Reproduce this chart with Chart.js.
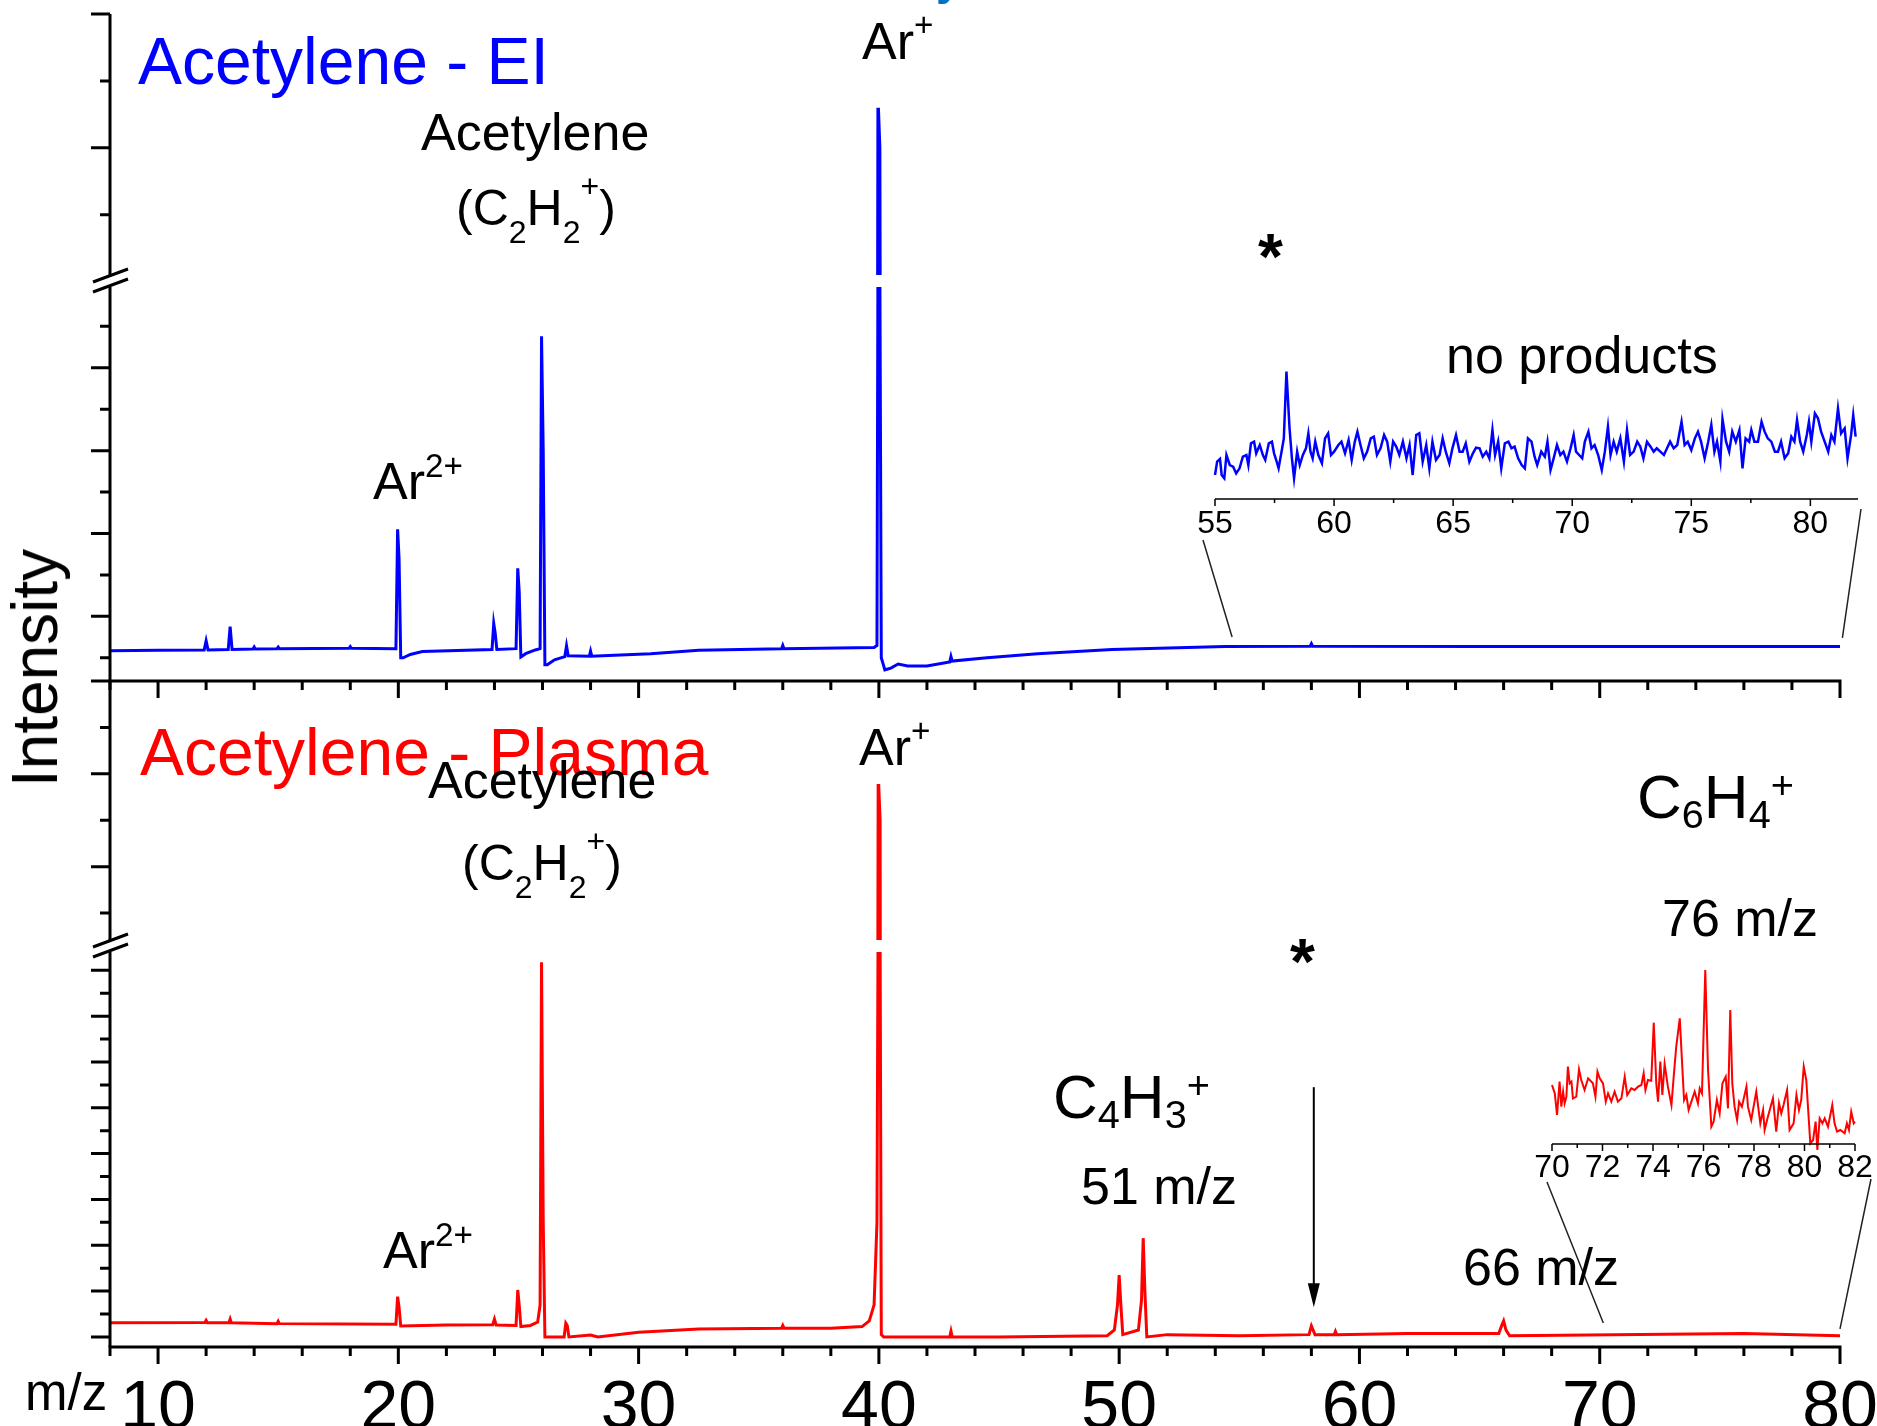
<!DOCTYPE html>
<html>
<head>
<meta charset="utf-8">
<script src="https://cdn.jsdelivr.net/npm/chart.js@4.4.1/dist/chart.umd.min.js"></script>
<style>
  html, body { margin: 0; padding: 0; background: #fff; overflow: hidden; }
  #fig { position: relative; width: 1877px; height: 1426px; overflow: hidden; font-family: "Liberation Sans", Arial, sans-serif; }
  #fig canvas { position: absolute; left: 0; top: 0; }
  .lbl { position: absolute; white-space: nowrap; line-height: 1; }
  .lbl sub, .lbl sup { font-size: 0.64em; vertical-align: baseline; position: relative; line-height: 0; }
  .lbl sub { top: 0.3em; }
  .lbl sup { top: -0.7em; }
</style>
</head>
<body>
<div id="fig">
  <canvas id="cTopHi" width="1877" height="1426"></canvas>
  <canvas id="cTopLo" width="1877" height="1426"></canvas>
  <canvas id="cBotHi" width="1877" height="1426"></canvas>
  <canvas id="cBotLo" width="1877" height="1426"></canvas>
  <canvas id="cEiZoom" width="1877" height="1426"></canvas>
  <canvas id="cPlZoom" width="1877" height="1426"></canvas>
</div>
<script>
const W = 1877, H = 1426;
const FONT = '"Liberation Sans", Arial, sans-serif';

// ---- data (intensity in arbitrary units of the split axes) ----
const mzTicks = [10, 20, 30, 40, 50, 60, 70, 80];

// Acetylene - EI
const eiMz = [8.0, 10.0, 11.92, 12.0, 12.08, 12.92, 13.0, 13.08, 13.95, 14.0, 14.05, 14.95, 15.0, 15.05,
  17.95, 18.0, 18.05, 19.9, 19.97, 20.03, 20.1, 20.2, 20.5, 21.0, 23.9, 23.97, 24.03, 24.1, 24.9, 24.97,
  25.03, 25.1, 25.3, 25.7, 25.9, 25.96, 26.03, 26.1, 26.2, 26.5, 26.93, 27.0, 27.07, 27.95, 28.0, 28.05,
  29.0, 30.5, 32.5, 35.95, 36.0, 36.05, 39.8, 39.92, 39.97, 40.03, 40.1, 40.25, 40.5, 40.8, 41.2, 42.0,
  42.95, 43.0, 43.05, 44.5, 46.6, 49.7, 54.4, 57.95, 58.0, 58.05, 65.0, 80.0];
const eiInt = [0.17, 0.18, 0.19, 0.41, 0.19, 0.2, 0.75, 0.2, 0.21, 0.26, 0.21, 0.22, 0.26, 0.22,
  0.23, 0.27, 0.23, 0.22, 3.10, 2.4, 0.0, 0.0, 0.08, 0.15, 0.2, 0.83, 0.6, 0.2, 0.22, 2.16,
  1.6, 0.02, 0.1, 0.19, 0.22, 7.76, 5.0, -0.17, -0.17, -0.05, 0.03, 0.29, 0.05, 0.04, 0.16, 0.04,
  0.06, 0.1, 0.18, 0.22, 0.3, 0.22, 0.25, 0.3, 11.6, 11.0, 0.0, -0.29, -0.25, -0.15, -0.2, -0.2,
  -0.1, 0.03, -0.08, 0.0, 0.1, 0.2, 0.27, 0.28, 0.34, 0.28, 0.27, 0.27];

// Acetylene - Plasma
const plMz = [8.0, 11.95, 12.0, 12.05, 12.95, 13.0, 13.05, 14.95, 15.0, 15.05, 19.9, 19.97, 20.03, 20.1,
  22.0, 23.93, 24.0, 24.07, 24.9, 24.97, 25.03, 25.1, 25.5, 25.8, 25.9, 25.96, 26.03, 26.1, 26.9, 26.97,
  27.03, 27.1, 28.0, 28.3, 30.0, 32.5, 35.95, 36.0, 36.05, 38.0, 39.3, 39.6, 39.8, 39.92, 39.98, 40.04,
  40.1, 40.2, 42.95, 43.0, 43.05, 45.0, 49.5, 49.8, 49.93, 50.0, 50.07, 50.15, 50.8, 50.93, 51.0, 51.07,
  51.15, 52.0, 55.0, 57.9, 58.0, 58.07, 58.15, 58.95, 59.0, 59.05, 62.0, 65.8, 65.92, 66.0, 66.1, 66.25,
  76.0, 80.0];
const plInt = [1.62, 1.63, 1.72, 1.62, 1.62, 1.78, 1.62, 1.58, 1.68, 1.58, 1.55, 2.76, 2.3, 1.48,
  1.52, 1.53, 1.78, 1.52, 1.5, 3.05, 2.4, 1.45, 1.5, 1.65, 2.4, 17.35, 6.0, 1.0, 1.0, 1.6,
  1.5, 1.0, 1.08, 1.0, 1.2, 1.35, 1.38, 1.5, 1.38, 1.38, 1.45, 1.7, 2.4, 6.0, 22.78, 22.0,
  1.1, 1.0, 1.0, 1.25, 1.0, 1.0, 1.05, 1.3, 2.4, 3.70, 2.4, 1.1, 1.3, 2.6, 5.31, 3.0,
  1.0, 1.1, 1.05, 1.1, 1.48, 1.3, 1.1, 1.1, 1.24, 1.1, 1.15, 1.15, 1.5, 1.7, 1.3, 1.05,
  1.15, 1.05];

// zoomed insets [m/z, intensity]
const eiZoom = [[55.00,0.72],[55.09,1.12],[55.21,1.20],[55.28,0.72],[55.39,0.62],[55.48,1.32],[55.62,1.02],[55.76,0.97],
  [55.89,0.77],[56.03,0.92],[56.17,1.27],[56.32,1.32],[56.40,1.02],[56.51,1.67],[56.64,1.72],[56.73,1.37],[56.88,1.62],
  [57.01,1.32],[57.11,1.17],[57.26,1.67],[57.39,1.72],[57.48,1.37],[57.57,1.17],[57.67,0.92],[57.82,1.52],[57.89,1.82],
  [58.00,3.82],[58.13,2.12],[58.23,1.22],[58.32,0.62],[58.45,1.42],[58.56,1.02],[58.69,1.32],[58.82,1.52],[58.92,1.97],
  [59.01,1.42],[59.10,1.22],[59.21,1.72],[59.34,1.32],[59.49,1.07],[59.62,1.82],[59.75,1.97],[59.87,1.32],[60.00,1.42],
  [60.18,1.62],[60.31,1.72],[60.46,1.37],[60.61,1.77],[60.74,1.17],[60.87,1.72],[60.98,2.02],[61.11,1.62],[61.25,1.22],
  [61.39,1.42],[61.54,1.82],[61.67,1.87],[61.80,1.32],[61.95,1.52],[62.10,1.92],[62.23,1.72],[62.36,1.12],[62.48,1.72],
  [62.61,1.57],[62.74,1.32],[62.89,1.72],[63.04,1.22],[63.17,1.62],[63.30,0.72],[63.45,1.92],[63.58,1.97],[63.72,1.12],
  [63.87,1.62],[64.00,0.92],[64.13,1.72],[64.28,1.17],[64.43,1.32],[64.56,1.82],[64.69,1.42],[64.84,1.07],[64.97,1.52],
  [65.12,1.92],[65.27,1.42],[65.40,1.42],[65.53,1.67],[65.68,1.12],[65.83,1.37],[65.96,1.54],[66.11,1.52],[66.24,1.27],
  [66.39,1.42],[66.52,1.22],[66.65,2.07],[66.76,1.32],[66.89,1.72],[67.02,0.92],[67.17,1.67],[67.32,1.72],[67.45,1.52],
  [67.58,1.57],[67.73,1.22],[67.88,1.02],[68.01,0.92],[68.14,1.82],[68.29,1.72],[68.42,1.27],[68.53,1.02],[68.70,1.42],
  [68.85,1.27],[68.96,1.72],[69.09,0.87],[69.22,1.22],[69.36,1.62],[69.50,1.32],[69.63,1.42],[69.78,1.12],[69.93,1.52],
  [70.06,1.92],[70.16,1.42],[70.29,1.32],[70.42,1.22],[70.53,1.72],[70.68,2.02],[70.81,1.52],[70.94,1.62],[71.09,1.32],
  [71.24,0.87],[71.37,1.42],[71.50,2.17],[71.61,1.32],[71.74,1.72],[71.87,1.42],[72.02,1.82],[72.17,1.12],[72.30,2.07],
  [72.43,1.32],[72.58,1.42],[72.73,1.72],[72.86,1.57],[72.99,1.22],[73.14,1.72],[73.29,1.57],[73.42,1.42],[73.55,1.52],
  [73.70,1.42],[73.85,1.32],[73.98,1.52],[74.11,1.72],[74.26,1.52],[74.41,1.62],[74.59,2.32],[74.72,1.62],[74.85,1.72],
  [75.00,1.47],[75.15,1.82],[75.28,2.02],[75.41,1.72],[75.56,1.22],[75.71,1.72],[75.84,2.22],[75.97,1.42],[76.08,1.72],
  [76.22,1.12],[76.31,2.40],[76.46,1.72],[76.59,1.42],[76.72,2.02],[76.87,1.72],[77.02,2.07],[77.15,0.92],[77.28,1.82],
  [77.43,1.72],[77.52,2.07],[77.65,1.72],[77.80,1.72],[77.95,2.32],[78.08,2.02],[78.21,1.82],[78.36,1.72],[78.51,1.42],
  [78.64,1.42],[78.77,1.72],[78.92,1.22],[79.07,1.37],[79.20,1.87],[79.33,1.72],[79.44,2.37],[79.57,1.72],[79.70,1.42],
  [79.85,1.92],[79.94,2.32],[80.04,1.72],[80.19,2.57],[80.32,2.42],[80.45,2.02],[80.60,1.72],[80.75,1.42],[80.88,1.92],
  [81.01,1.72],[81.16,2.72],[81.29,1.97],[81.44,2.12],[81.56,1.22],[81.71,1.92],[81.80,2.52],[81.90,1.87]];
const eiZoomTicks = [55, 60, 65, 70, 75, 80];

const plZoom = [[70.00,1.77],[70.11,1.52],[70.20,0.87],[70.30,1.87],[70.37,1.12],[70.44,1.57],[70.50,1.22],[70.57,1.42],
  [70.63,2.32],[70.70,1.82],[70.77,1.87],[70.83,1.37],[70.96,1.42],[71.07,2.24],[71.16,1.92],[71.29,1.62],[71.43,1.97],
  [71.62,1.82],[71.72,1.42],[71.80,2.17],[71.89,1.97],[72.02,1.82],[72.13,1.27],[72.22,1.52],[72.35,1.27],[72.48,1.57],
  [72.61,1.27],[72.75,1.37],[72.88,2.02],[72.98,1.47],[73.14,1.67],[73.27,1.62],[73.41,1.72],[73.54,1.77],[73.63,2.12],
  [73.70,1.62],[73.80,1.92],[73.93,1.90],[74.03,3.64],[74.13,1.82],[74.20,1.27],[74.29,2.47],[74.37,1.47],[74.46,2.40],
  [74.59,1.72],[74.73,1.17],[74.82,2.02],[74.92,2.92],[75.06,3.77],[75.16,2.32],[75.23,1.32],[75.32,1.47],[75.41,1.02],
  [75.52,1.27],[75.65,1.57],[75.78,1.22],[75.85,1.67],[75.94,1.52],[76.07,5.22],[76.18,2.22],[76.31,0.52],[76.40,0.67],
  [76.53,1.32],[76.64,0.92],[76.75,1.82],[76.88,2.02],[76.97,1.07],[77.06,4.02],[77.14,1.82],[77.23,1.12],[77.33,0.72],
  [77.41,1.27],[77.52,1.12],[77.70,1.72],[77.76,1.12],[77.89,0.72],[78.09,1.57],[78.25,0.62],[78.36,1.02],[78.42,0.42],
  [78.55,0.82],[78.75,1.37],[78.88,0.37],[78.99,1.22],[79.08,0.92],[79.17,1.17],[79.31,1.62],[79.41,0.42],[79.57,0.62],
  [79.68,1.47],[79.78,1.02],[79.87,1.32],[79.97,2.32],[80.07,1.92],[80.23,0.02],[80.34,0.12],[80.44,0.67],[80.51,-0.18],
  [80.60,0.77],[80.71,0.62],[80.80,0.77],[80.93,0.52],[81.10,1.17],[81.19,0.62],[81.29,0.37],[81.42,0.42],[81.59,0.32],
  [81.68,0.62],[81.76,0.42],[81.85,0.97],[81.95,0.62],[82.00,0.67]];
const plZoomTicks = [70, 72, 74, 76, 78, 80, 82];

// ---- annotation layout ----
const eiLinks = [
  { zoomMz: 55, dx: -12, dy: 41, mainMz: 54.7, mainInt: 0.5 },
  { zoomMz: 82, dx: 3, dy: 10, mainMz: 80.1, mainInt: 0.48 }
];
const plLinks = [
  { zoomMz: 70, dx: -5, dy: 38, mainMz: 70.15, mainInt: 1.61 },
  { zoomMz: 82, dx: 16, dy: 35, mainMz: 80.0, mainInt: 1.35 }
];
const arrow58 = { mz: 58.1, from: 11.9, to: 2.3 };

const toXY = (xs, ys) => xs.map((x, i) => ({ x, y: ys[i] }));
const pairXY = arr => arr.map(([x, y]) => ({ x, y }));

// ---- drawing helpers ----
function yTicks(c) {
  const { ctx, chartArea: a, scales: { y } } = c;
  ctx.save();
  ctx.strokeStyle = '#000';
  ctx.lineWidth = 3;
  ctx.beginPath();
  ctx.moveTo(a.left, a.top);
  ctx.lineTo(a.left, a.bottom);
  for (let v = Math.ceil(y.min); v <= y.max; v++) {
    const py = y.getPixelForValue(v);
    ctx.moveTo(a.left - (v % 2 ? 19 : 10), py);
    ctx.lineTo(a.left, py);
  }
  ctx.stroke();
  ctx.restore();
}

function breakMark(c) {
  const { ctx, chartArea: a } = c;
  const x = a.left, cy = a.top - 6;
  ctx.save();
  ctx.fillStyle = '#fff';
  ctx.beginPath();
  ctx.moveTo(x - 17, cy + 1); ctx.lineTo(x + 18, cy - 12);
  ctx.lineTo(x + 18, cy - 2); ctx.lineTo(x - 17, cy + 11);
  ctx.closePath();
  ctx.fill();
  ctx.strokeStyle = '#000';
  ctx.lineWidth = 3;
  ctx.beginPath();
  ctx.moveTo(x - 17, cy + 1); ctx.lineTo(x + 18, cy - 12);
  ctx.moveTo(x - 17, cy + 11); ctx.lineTo(x + 18, cy - 2);
  ctx.stroke();
  ctx.restore();
}

function mzAxis(c, withLabels) {
  const { ctx, chartArea: a, scales: { x } } = c;
  const py = a.bottom;
  ctx.save();
  ctx.strokeStyle = '#000';
  ctx.lineWidth = 3;
  ctx.beginPath();
  ctx.moveTo(a.left - 1.5, py);
  ctx.lineTo(a.right + 1.5, py);
  for (let m = x.min; m <= x.max; m += 2) {
    const px = x.getPixelForValue(m);
    ctx.moveTo(px, py);
    ctx.lineTo(px, py + (m % 10 ? 9 : 17));
  }
  ctx.stroke();
  if (withLabels) {
    ctx.fillStyle = '#000';
    ctx.font = `68px ${FONT}`;
    ctx.textAlign = 'center';
    mzTicks.forEach(m => ctx.fillText(String(m), x.getPixelForValue(m), py + 81));
  }
  ctx.restore();
}

function drawArrow(c) {
  const { ctx, scales: { x, y } } = c;
  const px = x.getPixelForValue(arrow58.mz);
  const y0 = y.getPixelForValue(arrow58.from), y1 = y.getPixelForValue(arrow58.to);
  ctx.save();
  ctx.strokeStyle = '#000';
  ctx.fillStyle = '#000';
  ctx.lineWidth = 2;
  ctx.beginPath();
  ctx.moveTo(px, y0);
  ctx.lineTo(px, y1 - 20);
  ctx.stroke();
  ctx.beginPath();
  ctx.moveTo(px, y1);
  ctx.lineTo(px - 6, y1 - 24);
  ctx.lineTo(px + 6, y1 - 24);
  ctx.closePath();
  ctx.fill();
  ctx.restore();
}

function zoomAxis(c, step, labelTicks, labelGap) {
  const { ctx, scales: { x, y } } = c;
  const py = y.getPixelForValue(0);
  ctx.save();
  ctx.strokeStyle = '#000';
  ctx.lineWidth = 1.5;
  ctx.beginPath();
  ctx.moveTo(x.left, py);
  ctx.lineTo(x.right, py);
  for (let m = x.min; m <= x.max + 1e-9; m += step) {
    const px = x.getPixelForValue(m);
    ctx.moveTo(px, py);
    ctx.lineTo(px, py + (labelTicks.includes(m) ? 7 : 4));
  }
  ctx.stroke();
  ctx.fillStyle = '#000';
  ctx.font = `32px ${FONT}`;
  ctx.textAlign = 'center';
  labelTicks.forEach(m => ctx.fillText(String(m), x.getPixelForValue(m), py + labelGap));
  ctx.restore();
}

function links(c, main, list) {
  const { ctx, scales: { x, y } } = c;
  const py = y.getPixelForValue(0);
  ctx.save();
  ctx.strokeStyle = '#222';
  ctx.lineWidth = 1.5;
  ctx.beginPath();
  list.forEach(l => {
    ctx.moveTo(x.getPixelForValue(l.zoomMz) + l.dx, py + l.dy);
    ctx.lineTo(main.scales.x.getPixelForValue(l.mainMz), main.scales.y.getPixelForValue(l.mainInt));
  });
  ctx.stroke();
  ctx.restore();
}

function makeChart(id, area, xr, yr, points, color, width, clip, draw) {
  return new Chart(document.getElementById(id), {
    type: 'line',
    data: {
      datasets: [{
        data: points,
        borderColor: color,
        borderWidth: width,
        pointRadius: 0,
        tension: 0,
        fill: false,
        clip: clip
      }]
    },
    options: {
      responsive: false,
      animation: false,
      events: [],
      layout: { padding: { left: area[0], top: area[1], right: W - area[2], bottom: H - area[3] } },
      plugins: { legend: { display: false }, tooltip: { enabled: false } },
      scales: {
        x: { type: 'linear', display: false, min: xr[0], max: xr[1] },
        y: { type: 'linear', display: false, min: yr[0], max: yr[1] }
      }
    },
    plugins: [{ id: 'deco', afterDraw: draw }]
  });
}

const charts = {};
charts.topHi = makeChart('cTopHi', [110, 14, 1840, 275], [8, 80], [9.1, 13],
  toXY(eiMz, eiInt), '#0000ff', 3.5, 0, c => yTicks(c));
charts.topLo = makeChart('cTopLo', [110, 287, 1840, 681], [8, 80], [-0.56, 8.95],
  toXY(eiMz, eiInt), '#0000ff', 3, 0, c => { yTicks(c); breakMark(c); mzAxis(c, false); });
charts.botHi = makeChart('cBotHi', [110, 681, 1840, 940], [8, 80], [19.42, 25],
  toXY(plMz, plInt), '#ff0000', 3.5, 0, c => yTicks(c));
charts.botLo = makeChart('cBotLo', [110, 952, 1840, 1347], [8, 80], [0.56, 17.8],
  toXY(plMz, plInt), '#ff0000', 3, 0, c => { yTicks(c); breakMark(c); mzAxis(c, true); drawArrow(c); });
charts.eiZoom = makeChart('cEiZoom', [1215, 360, 1858, 499], [55, 82], [0, 4.17],
  pairXY(eiZoom), '#0000ff', 2.5, false, c => { zoomAxis(c, 2.5, eiZoomTicks, 34); links(c, charts.topLo, eiLinks); });
charts.plZoom = makeChart('cPlZoom', [1552, 960, 1855, 1144], [70, 82], [0, 5.52],
  pairXY(plZoom), '#ff0000', 2, false, c => { zoomAxis(c, 1, plZoomTicks, 33); links(c, charts.botLo, plLinks); });

// ---- text labels: [html, left, baseline, size, color, weight] ----
const c2h2 = '(C<sub style="top:0.58em">2</sub>H<sub style="top:0.58em">2</sub><sup style="top:-0.85em">+</sup>)';
const notes = [
  ['y', 936, -6, 46, '#0070c0', 'bold'],
  ['Acetylene - EI', 138, 84, 66, '#0000ff'],
  ['Acetylene', 421, 150, 52],
  [c2h2, 456, 225, 50],
  ['Ar<sup>+</sup>', 862, 59, 52],
  ['Ar<sup style="top:-0.66em">2+</sup>', 373, 499, 52],
  ['*', 1258, 279, 64, '#000', 'bold'],
  ['no products', 1446, 373, 52],
  ['Acetylene - Plasma', 140, 775, 66, '#ff0000'],
  ['Acetylene', 428, 798, 52],
  [c2h2, 462, 880, 50],
  ['Ar<sup>+</sup>', 859, 765, 52],
  ['Ar<sup style="top:-0.66em">2+</sup>', 383, 1268, 52],
  ['C<sub style="top:0.27em">6</sub>H<sub style="top:0.27em">4</sub><sup style="top:-0.48em">+</sup>', 1637, 818, 62],
  ['76 m/z', 1662, 936, 52],
  ['*', 1290, 984, 64, '#000', 'bold'],
  ['C<sub style="top:0.27em">4</sub>H<sub style="top:0.27em">3</sub><sup style="top:-0.48em">+</sup>', 1053, 1118, 62],
  ['51 m/z', 1081, 1204, 52],
  ['66 m/z', 1463, 1285, 52],
  ['m/z', 25, 1410, 51]
];

const fig = document.getElementById('fig');
notes.forEach(([html, x, base, size, color, weight]) => {
  const d = document.createElement('div');
  d.className = 'lbl';
  d.innerHTML = html;
  d.style.left = x + 'px';
  d.style.top = (base - 0.8465 * size) + 'px';
  d.style.fontSize = size + 'px';
  d.style.color = color || '#000';
  d.style.fontWeight = weight || 'normal';
  fig.appendChild(d);
});

const yTitle = document.createElement('div');
yTitle.className = 'lbl';
yTitle.textContent = 'Intensity';
yTitle.style.cssText = 'left:35px;top:668px;font-size:64px;transform:translate(-50%,-50%) rotate(-90deg);';
fig.appendChild(yTitle);
</script>
</body>
</html>
